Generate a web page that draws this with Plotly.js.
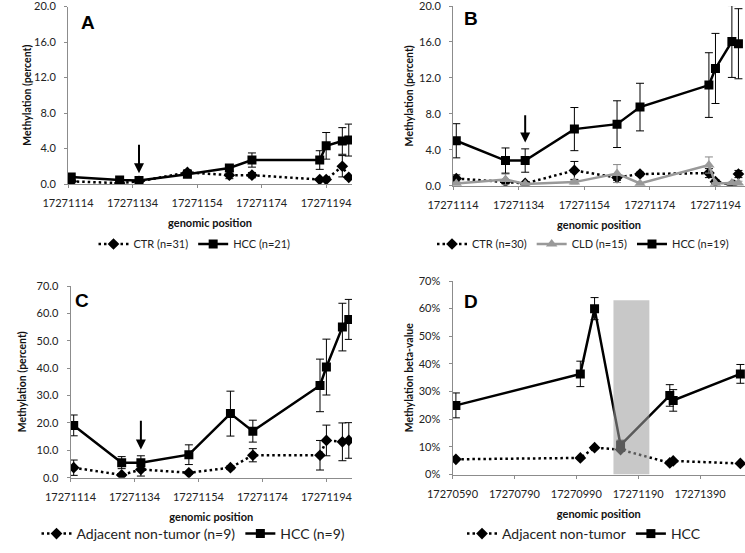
<!DOCTYPE html>
<html><head><meta charset="utf-8">
<script src="https://cdn.plot.ly/plotly-3.0.1.min.js"></script>
<style>html,body{margin:0;padding:0;background:#fff}#chart{width:745px;height:553px}</style>
</head><body><div id="chart"></div>
<script>
// CpG positions (panels A-C)
const posABC = [17271115,17271130,17271136,17271151,17271164,17271171,17271192,17271194,17271199,17271201];
// Panel A
const aCTR    = [0.3,0.1,0.3,1.3,1.0,1.0,0.5,0.5,2.0,0.75];
const aCTRerr = [0.2,0.1,0.2,0.3,0.4,0.3,0.1,0.1,1.2,0.2];
const aHCC    = [0.8,0.45,0.4,1.1,1.8,2.7,2.7,4.3,4.85,4.95];
const aHCCerr = [0.2,0.1,0.1,0.2,0.35,0.8,1.05,1.5,1.5,1.8];
// Panel B
const bCTR    = [0.8,0.45,0.25,1.7,0.9,1.3,1.4,0.45,0.1,1.3];
const bCTRerr = [0.4,0.2,0.1,1.0,0.3,0.2,0.5,0.2,0.1,0.4];
const bCLD    = [0.25,0.7,0.2,0.4,1.35,0.25,2.3,0.25,0.3,0.3];
const bCLDerr = [0.1,0.6,0.1,0.2,1.0,0.1,0.9,0.1,0.1,0.2];
const bHCC    = [5.0,2.8,2.8,6.3,6.85,8.75,11.2,13.05,16.05,15.8];
const bHCCerr = [1.9,1.4,1.3,2.4,2.6,2.65,3.6,3.9,4.0,3.9];
// Panel C
const cAdj    = [3.65,1.0,3.0,1.8,3.65,8.2,8.2,13.6,13.1,13.6];
const cAdjErr = [2.8,0.4,2.4,0.5,0.7,2.4,5.4,5.6,6.9,6.5];
const cHCC    = [19.1,5.5,5.5,8.4,23.4,17.0,33.7,40.4,55.0,57.8];
const cHCCerr = [3.8,2.2,2.5,3.6,8.2,4.0,9.6,10.2,8.7,7.3];
// Panel D
const posD    = [17270601,17271003,17271049,17271133,17271292,17271303,17271520];
const dAdj    = [0.055,0.060,0.097,0.090,0.042,0.049,0.040];
const dAdjErr = [0.003,0.003,0.004,0.004,0.003,0.003,0.003];
const dHCC    = [0.250,0.364,0.600,0.106,0.286,0.268,0.364];
const dHCCerr = [0.045,0.046,0.040,0.018,0.039,0.039,0.034];
// Highlighted region in D (the amplicon of A-C)
const bandD = [17271110, 17271226];
const bandTop = 0.63;
// Arrow marking CpG of interest
const arrowPos = 17271136;
const arrowA = [4.6, 1.2], arrowB = [8.0, 4.8], arrowC = [21.3, 10.3];
// Legend labels
const labelsA = ['CTR (n=31)', 'HCC (n=21)'];
const labelsB = ['CTR (n=30)', 'CLD (n=15)', 'HCC (n=19)'];
const labelsC = ['Adjacent non-tumor (n=9)', 'HCC (n=9)'];
const labelsD = ['Adjacent non-tumor', 'HCC'];

const W = 745, H = 553;
const FONT = 'Lato, "Open Sans", sans-serif';
const px = v => v / W, py = v => 1 - v / H;

function ctr(x, y, e, name, xa, ya, lg) {
  return {x, y, name, xaxis: xa, yaxis: ya, legend: lg, type: 'scatter', mode: 'lines+markers',
    line: {color: '#000', width: 2.5, dash: '2.5px,3px'},
    marker: {symbol: 'diamond', size: 9, color: '#000'},
    error_y: {type: 'data', array: e, visible: true, color: '#000', thickness: 1, width: 4}};
}
function hcc(x, y, e, name, xa, ya, lg) {
  return {x, y, name, xaxis: xa, yaxis: ya, legend: lg, type: 'scatter', mode: 'lines+markers',
    line: {color: '#000', width: 2.5},
    marker: {symbol: 'square', size: 9, color: '#000'},
    error_y: {type: 'data', array: e, visible: true, color: '#000', thickness: 1, width: 4}};
}
function cld(x, y, e, name, xa, ya, lg) {
  return {x, y, name, xaxis: xa, yaxis: ya, legend: lg, type: 'scatter', mode: 'lines+markers',
    line: {color: '#999', width: 2.5},
    marker: {symbol: 'triangle-up', size: 10, color: '#999'},
    error_y: {type: 'data', array: e, visible: true, color: '#888', thickness: 1, width: 4}};
}

const traces = [
  ctr(posABC, aCTR, aCTRerr, labelsA[0], 'x', 'y', 'legend'),
  hcc(posABC, aHCC, aHCCerr, labelsA[1], 'x', 'y', 'legend'),
  ctr(posABC, bCTR, bCTRerr, labelsB[0], 'x2', 'y2', 'legend2'),
  cld(posABC, bCLD, bCLDerr, labelsB[1], 'x2', 'y2', 'legend2'),
  hcc(posABC, bHCC, bHCCerr, labelsB[2], 'x2', 'y2', 'legend2'),
  ctr(posABC, cAdj, cAdjErr, labelsC[0], 'x3', 'y3', 'legend3'),
  hcc(posABC, cHCC, cHCCerr, labelsC[1], 'x3', 'y3', 'legend3'),
  ctr(posD, dAdj, dAdjErr, labelsD[0], 'x4', 'y4', 'legend4'),
  hcc(posD, dHCC, dHCCerr, labelsD[1], 'x4', 'y4', 'legend4')
];

const tickFont = {family: FONT, size: 11, color: '#222'};
const titleFont = {family: FONT, size: 11, color: '#111', weight: 'bold'};
function xax(dom, range, tick0, dtick, anchor) {
  return {domain: dom, range, tick0, dtick, tickformat: 'd', anchor, showgrid: false, zeroline: false,
    showline: true, linecolor: '#8c8c8c', linewidth: 1, ticks: 'outside', ticklen: 3, tickcolor: '#8c8c8c',
    ticklabelstandoff: 6, ticklabeloverflow: 'allow',
    tickfont: tickFont, title: {text: 'genomic position', font: titleFont, standoff: 11}};
}
function yax(dom, range, dtick, fmt, anchor, title, so) {
  return {domain: dom, range, dtick, tick0: 0, tickformat: fmt, anchor, showgrid: false, zeroline: false,
    showline: true, linecolor: '#8c8c8c', linewidth: 1, ticks: 'outside', ticklen: 3, tickcolor: '#8c8c8c',
    ticklabelstandoff: 6, ticklabeloverflow: 'allow',
    tickfont: tickFont, title: {text: title, font: {family: FONT, size: 10.5, color: '#111', weight: 'bold'}, standoff: so}};
}
function legend(x, y, size) {
  return {orientation: 'h', x, y, xanchor: 'center', yanchor: 'middle', bgcolor: 'rgba(0,0,0,0)',
    font: {family: FONT, size, color: '#222'}, itemwidth: 30, tracegroupgap: 0};
}
function arrow(xa, ya, yy) {
  return {x: arrowPos, y: yy[1], ax: arrowPos, ay: yy[0], xref: xa, yref: ya, axref: xa, ayref: ya,
    text: '', showarrow: true, arrowhead: 2, arrowsize: 1, arrowwidth: 2, arrowcolor: '#000', standoff: 0};
}
function letter(t, x, y) {
  return {text: '<b>' + t + '</b>', x: px(x), y: py(y), xref: 'paper', yref: 'paper', xanchor: 'center', yanchor: 'middle',
    showarrow: false, font: {family: 'Arial, "Liberation Sans", sans-serif', size: 19, color: '#000'}};
}

const layout = {
  width: W, height: H, margin: {l: 0, r: 0, t: 0, b: 0}, paper_bgcolor: '#fff', plot_bgcolor: 'rgba(0,0,0,0)',
  font: {family: FONT},
  xaxis:  xax([px(68), px(352)], [17271114, 17271202], 17271114, 20, 'y'),
  yaxis:  yax([py(184), py(6.5)], [0, 20], 4, '.1f', 'x', 'Methylation (percent)', 0),
  xaxis2: xax([px(453), 1], [17271114, 17271203], 17271114, 20, 'y2'),
  yaxis2: yax([py(185.7), py(6)], [0, 20], 4, '.1f', 'x2', 'Methylation (percent)', 3),
  xaxis3: xax([px(70.5), px(352)], [17271114, 17271202], 17271114, 20, 'y3'),
  yaxis3: yax([py(477.7), py(286)], [0, 70], 10, '.1f', 'x3', 'Methylation (percent)', 7),
  xaxis4: xax([px(452.5), 1], [17270590, 17271535], 17270590, 200, 'y4'),
  yaxis4: yax([py(474.5), py(281)], [0, 0.7], 0.1, '.0%', 'x4', 'Methylation beta-value', 3),
  legend:  legend(px(194.5), py(244), 11),
  legend2: legend(px(583), py(244), 11),
  legend3: legend(px(193.5), py(534), 14),
  legend4: legend(px(584), py(534), 14),
  showlegend: true,
  shapes: [{type: 'rect', xref: 'x4', yref: 'y4', x0: bandD[0], x1: bandD[1], y0: 0, y1: bandTop,
    fillcolor: 'rgba(158,158,158,0.57)', line: {width: 0}, layer: 'above'}],
  annotations: [
    arrow('x', 'y', arrowA), arrow('x2', 'y2', arrowB), arrow('x3', 'y3', arrowC),
    letter('A', 88, 23), letter('B', 471, 18.3), letter('C', 82, 300), letter('D', 471.3, 301)
  ]
};

Plotly.newPlot('chart', traces, layout, {displayModeBar: false, staticPlot: true});
</script></body></html>
